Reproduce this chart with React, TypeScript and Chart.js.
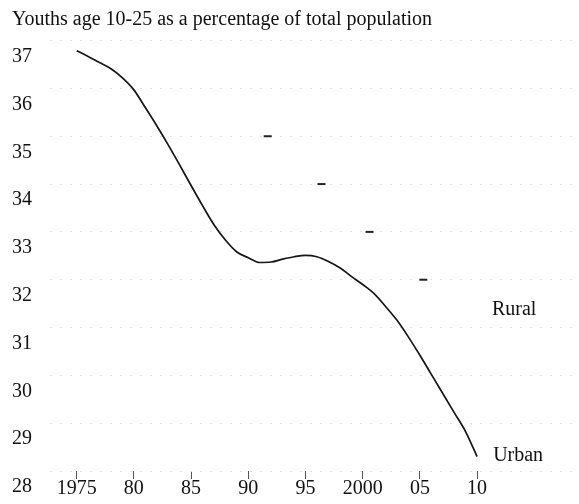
import React, { useEffect, useRef } from 'react';
import { Chart, registerables } from 'chart.js';

Chart.register(...registerables);

const chartTitle = 'Youths age 10-25 as a percentage of total population';

const years = [
  1975, 1976, 1977, 1978, 1979, 1980, 1981, 1982, 1983, 1984, 1985, 1986,
  1987, 1988, 1989, 1990, 1991, 1992, 1993, 1994, 1995, 1996, 1997, 1998,
  1999, 2000, 2001, 2002, 2003, 2004, 2005, 2006, 2007, 2008, 2009, 2010,
];
const youthShare = [
  36.79, 36.67, 36.54, 36.41, 36.22, 35.97, 35.6, 35.22, 34.82, 34.4, 33.97, 33.55,
  33.15, 32.83, 32.58, 32.46, 32.36, 32.37, 32.43, 32.48, 32.51, 32.48, 32.38, 32.25,
  32.07, 31.9, 31.71, 31.44, 31.15, 30.8, 30.42, 30.02, 29.62, 29.22, 28.82, 28.3,
];

const xTickValues = [1975, 1980, 1985, 1990, 1995, 2000, 2005, 2010];
const xTickLabels = ['1975', '80', '85', '90', '95', '2000', '05', '10'];
const yTickValues = [28, 29, 30, 31, 32, 33, 34, 35, 36, 37];

// short heavier dashes visible on the gridlines
const gridMarkYears = [1991.7, 1996.4, 2000.6, 2005.3];
const gridMarkValues = [35, 34, 33, 32];

const seriesLabels = ['Rural', 'Urban'];
const seriesLabelYears = [2011.3, 2011.4];
const seriesLabelValues = [31.37, 28.31];

const FONT = '"Liberation Serif", "Times New Roman", serif';
const INK = '#111';

const endLabels = {
  id: 'endLabels',
  afterDatasetsDraw(chart: any) {
    const { ctx, scales } = chart;
    const x = scales.x;
    const y = scales.y;
    ctx.save();
    ctx.font = `20px ${FONT}`;
    ctx.fillStyle = INK;
    ctx.textAlign = 'left';
    ctx.textBaseline = 'middle';
    seriesLabels.forEach((t, i) => {
      ctx.fillText(t, x.getPixelForValue(seriesLabelYears[i]), y.getPixelForValue(seriesLabelValues[i]));
    });
    ctx.restore();
  },
};

export default function App() {
  const ref = useRef<HTMLCanvasElement | null>(null);

  useEffect(() => {
    if (!ref.current) return;
    Chart.defaults.font.family = FONT;
    Chart.defaults.color = INK;
    const chart = new Chart(ref.current, {
      type: 'line',
      data: {
        datasets: [
          {
            label: 'Youths share',
            data: years.map((yr, i) => ({ x: yr, y: youthShare[i] })),
            borderColor: '#161616',
            borderWidth: 1.7,
            pointRadius: 0,
            cubicInterpolationMode: 'monotone',
            fill: false,
          },
          {
            label: 'grid marks',
            data: gridMarkYears.map((yr, i) => ({ x: yr, y: gridMarkValues[i] })),
            showLine: false,
            pointStyle: 'line',
            pointRadius: 4,
            pointBorderWidth: 2,
            borderColor: '#222',
            backgroundColor: '#222',
          },
        ],
      },
      options: {
        animation: false,
        responsive: false,
        maintainAspectRatio: false,
        layout: { padding: { left: 12, right: 0, top: 0, bottom: 5 } },
        plugins: {
          legend: { display: false },
          tooltip: { enabled: false },
          title: {
            display: true,
            text: chartTitle,
            align: 'start',
            color: INK,
            font: { size: 20, weight: 'normal', family: FONT },
            padding: { top: 8, bottom: 0 },
          },
        },
        scales: {
          x: {
            type: 'linear',
            min: 1972.67,
            max: 2018.38,
            afterBuildTicks: (s: any) => {
              s.ticks = xTickValues.map((v) => ({ value: v }));
            },
            afterFit: (s: any) => {
              s.height = 28;
            },
            ticks: {
              callback: (_v: any, i: number) => xTickLabels[i],
              font: { size: 20, lineHeight: 1, family: FONT },
              color: INK,
              padding: 0,
              maxRotation: 0,
              autoSkip: false,
            },
            grid: {
              drawOnChartArea: false,
              drawTicks: true,
              tickLength: 8,
              tickColor: '#555',
              tickWidth: 1,
            },
            border: { display: false },
          },
          y: {
            min: 28,
            max: 37.18,
            afterBuildTicks: (s: any) => {
              s.ticks = yTickValues.map((v) => ({ value: v }));
            },
            afterFit: (s: any) => {
              s.width = 38;
            },
            ticks: {
              callback: (_v: any, i: number) => String(yTickValues[i]),
              font: { size: 20, family: FONT },
              color: INK,
              crossAlign: 'far',
              labelOffset: 16,
              padding: 0,
              autoSkip: false,
            },
            grid: { color: '#e2e2e2', lineWidth: 1, drawTicks: false },
            border: { display: false, dash: [2, 8] },
          },
        },
      },
      plugins: [endLabels],
    } as any);
    return () => chart.destroy();
  }, []);

  return (
    <div style={{ position: 'fixed', left: 0, top: 0, width: 579, height: 504, background: '#fff' }}>
      <canvas ref={ref} width={579} height={504} style={{ display: 'block' }} />
    </div>
  );
}
